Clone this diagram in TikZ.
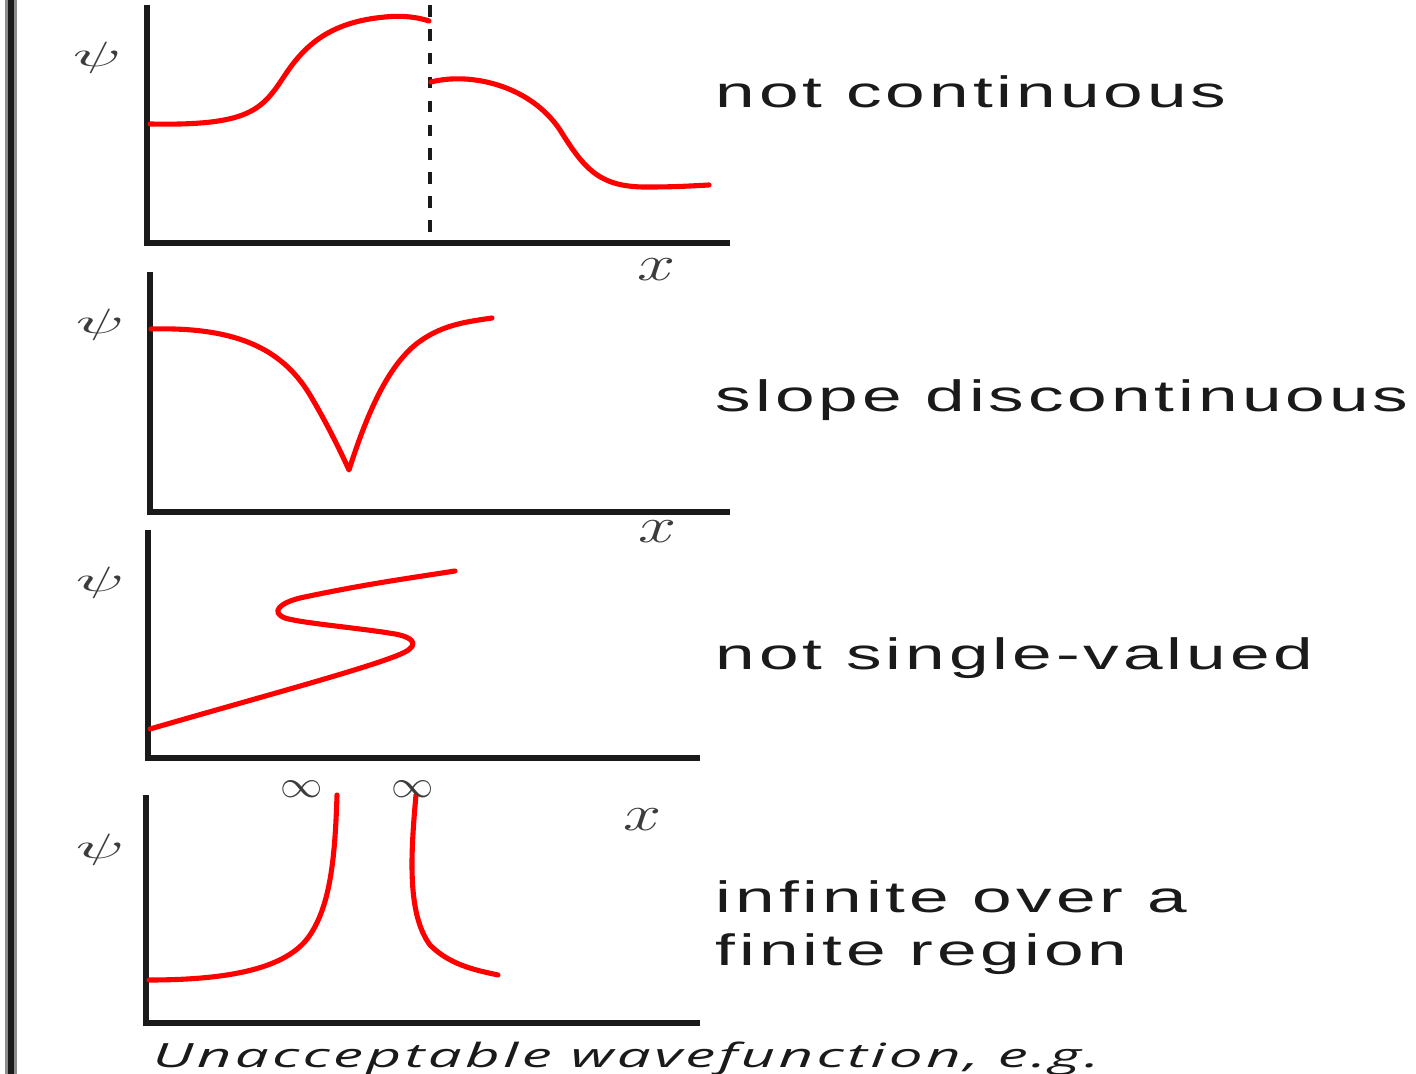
\documentclass[tikz,border=0pt]{standalone}
\usepackage{fontspec}
\usetikzlibrary{positioning}
\newfontfamily\lblfont[FakeStretch=1.62, LetterSpace=9]{Liberation Sans}
\newfontfamily\capfont[FakeStretch=1.8, LetterSpace=10]{Open Sans}
\definecolor{WaveRed}{HTML}{FF0000}
\definecolor{AxisK}  {HTML}{1A1A1A}
\definecolor{EdgeG}  {HTML}{8C8C8C}
\definecolor{SymG}   {HTML}{3C3C3C}
\tikzset{
  wave/.style={
    draw=WaveRed, line width=1.45pt,
    line cap=round, line join=round,
  },
  axis/.style={
    draw=AxisK, line width=1.6pt, line join=miter,
  },
  cutline/.style={
    draw=AxisK, line width=1.4pt,
    dash pattern=on 3.3pt off 3.5pt,
  },
  desc/.style={
    font=\lblfont\fontsize{12.5}{15}\selectfont,
    anchor=base west, align=left, inner sep=0pt, text=AxisK,
  },
  caption/.style={
    font=\capfont\itshape\fontsize{9.5}{9.5}\selectfont,
    anchor=base west, inner sep=0pt, text=AxisK,
  },
  % axis letters
  varlbl/.style={
    inner sep=0pt, text=SymG,
  },
}
\newcommand{\psilbl}{\scalebox{2.0}[1]{\fontsize{10}{10}\selectfont$\psi$}}
\newcommand{\xlbl}{\scalebox{1.35}[1]{\fontsize{14.5}{14.5}\selectfont$x$}}
\newcommand{\inflbl}{\scalebox{1.1}[1]{\fontsize{11.4}{11.4}\selectfont$\infty$}}

\begin{document}
\begin{tikzpicture}[x=0.01cm,y=-0.01cm]
  \useasboundingbox (0,0) rectangle (1416,1074);

  % left edge bar
  \draw[EdgeG, line width=0.11cm] (11,0) -- (11,1074);
  \draw[AxisK, line width=0.05cm] (11,0) -- (11,1074);

  % axes of the four panels
  \foreach \ox/\top/\bot/\rt in {147/5/243/730, 150/272/512/730,
                                148/530/758/700, 146/795/1023/700}{
    \draw[axis] (\ox,\top) |- (\rt,\bot);
  }

  % panel 1: jump
  \draw[cutline] (430,5) -- (430,240);
  \draw[wave] (150,124) .. controls (250,126) and (262,110) .. (285,75)
      .. controls (305,45) and (330,22) .. (385,17)
      .. controls (405,15) and (420,18) .. (429,21);
  \draw[wave] (431,82) .. controls (470,72) and (530,85) .. (560,130)
      .. controls (585,170) and (600,188) .. (650,187)
      .. controls (675,187) and (690,186) .. (709,185);

  % panel 2: cusp
  \draw[wave] (151,329) .. controls (230,327) and (280,345) .. (310,395)
      .. controls (325,420) and (340,450) .. (349,470)
      .. controls (365,420) and (385,370) .. (415,345)
      .. controls (440,325) and (465,322) .. (492,318);

  % panel 3: fold back
  \draw[wave] (150,729) .. controls (260,697) and (380,665) .. (405,652)
      .. controls (420,644) and (412,637) .. (395,634)
      .. controls (360,628) and (300,623) .. (285,618)
      .. controls (270,612) and (280,603) .. (300,598)
      .. controls (360,585) and (410,578) .. (455,571);

  % panel 4: poles
  \draw[wave] (149,980) .. controls (240,980) and (290,965) .. (310,935)
      .. controls (330,905) and (335,860) .. (337,795);
  \draw[wave] (416,795) .. controls (410,860) and (408,915) .. (430,945)
      .. controls (450,965) and (475,970) .. (498,975);

  % axis letters
  \node[varlbl] (psiA) at (97,58)  {\psilbl};
  \node[varlbl] (psiB) at (100,325) {\psilbl};
  \node[varlbl] (psiC) at (100,583) {\psilbl};
  \node[varlbl] (psiD) at (100,850) {\psilbl};
  \node[varlbl] (xA) at (657,270) {\xlbl};
  \node[varlbl] (xB) at (658,532) {\xlbl};
  \node[varlbl] (xD) at (643,820) {\xlbl};
  \node[varlbl] (infL) at (302,789) {\inflbl};
  \node[varlbl] (infR) at (413,789) {\inflbl};

  % descriptions
  \node[desc] (dscA) at (715,108) {not continuous};
  \node[desc] (dscB) at (715,412) {slope discontinuous};
  \node[desc] (dscC) at (715,670) {not single-valued};
  \node[desc] (dscD) at (715,965) {infinite over a\\finite region};
  \node[caption] (cap) at (152,1067) {Unacceptable wavefunction, e.g.};
\end{tikzpicture}
\end{document}
